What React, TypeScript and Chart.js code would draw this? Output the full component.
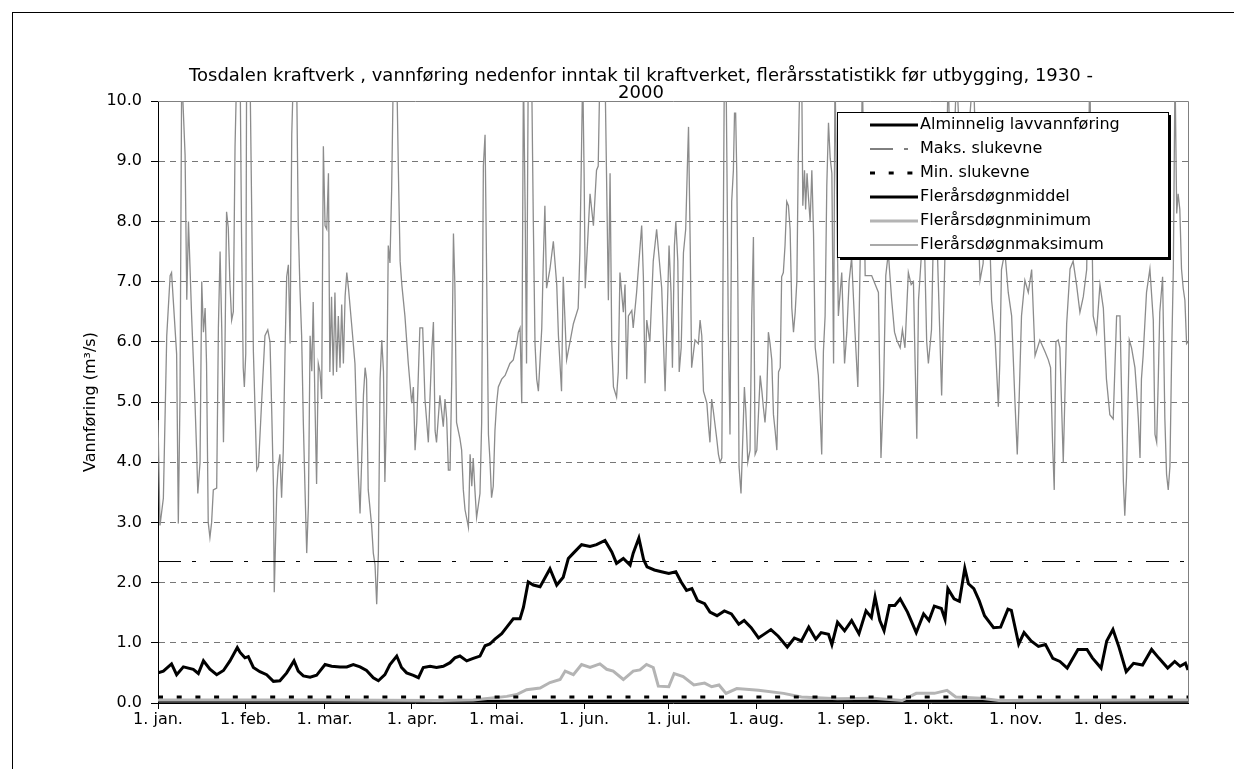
import React, { useEffect, useRef } from 'react';
import { Chart, registerables } from 'chart.js';

Chart.register(...registerables);

// ---------- Data ----------
const titleLines = [
  'Tosdalen kraftverk , vannføring nedenfor inntak til kraftverket, flerårsstatistikk før utbygging, 1930 -',
  '2000',
];
const yAxisTitle = 'Vannføring (m³/s)';

const monthStartDays = [0, 31, 59, 90, 120, 151, 181, 212, 243, 273, 304, 334];
const monthLabels = ['1. jan.', '1. feb.', '1. mar.', '1. apr.', '1. mai.', '1. jun.', '1. jul.', '1. aug.', '1. sep.', '1. okt.', '1. nov.', '1. des.'];
const yearSpan = [0, 365];

const seriesLabels = [
  'Alminnelig lavvannføring',
  'Maks. slukevne',
  'Min. slukevne',
  'Flerårsdøgnmiddel',
  'Flerårsdøgnminimum',
  'Flerårsdøgnmaksimum',
];

const alminneligLavvannforing = 0.03;
const maksSlukevne = 2.35;
const minSlukevne = 0.1;

// [day of year, m3/s]
const meanSeries: [number, number][] = [
  [0, 0.5], [1.9, 0.53], [4.8, 0.65], [6.6, 0.47], [9, 0.6], [12.5, 0.56], [14.3, 0.49], [16.1, 0.7],
  [18.4, 0.56], [20.8, 0.47], [23.2, 0.54], [25.5, 0.7], [28.1, 0.92], [29.1, 0.84], [30.8, 0.75], [32, 0.77],
  [33.8, 0.59], [36.1, 0.52], [38.5, 0.47], [40.9, 0.36], [43.2, 0.37], [45.6, 0.5], [48.2, 0.7], [49.7, 0.53],
  [51.5, 0.45], [53.9, 0.43], [56.2, 0.46], [59.2, 0.64], [61.5, 0.61], [64.5, 0.6], [66.9, 0.6], [69.2, 0.64],
  [71.6, 0.6], [73.9, 0.54], [76.3, 0.42], [78.1, 0.37], [80.4, 0.47], [82.2, 0.64], [84.6, 0.78], [86.3, 0.59],
  [88.1, 0.5], [90.5, 0.46], [92.3, 0.42], [94, 0.59], [96.4, 0.61], [98.7, 0.59], [101.1, 0.61], [103.5, 0.67],
  [105.2, 0.75], [107, 0.78], [109.4, 0.7], [111.7, 0.74], [114.1, 0.78], [115.9, 0.95], [117.6, 0.98], [119.4, 1.06],
  [121.8, 1.15], [123.6, 1.26], [125.9, 1.4], [128.3, 1.4], [129.5, 1.59], [131.2, 2.01], [133, 1.96], [135.4, 1.93],
  [138.9, 2.23], [141.3, 1.96], [143.6, 2.09], [145.4, 2.4], [147.2, 2.49], [150.1, 2.63], [153.1, 2.6], [155.4, 2.63],
  [158.4, 2.7], [160.8, 2.51], [162.5, 2.32], [164.9, 2.4], [167.3, 2.29], [168.4, 2.49], [170.4, 2.74], [172.1, 2.38],
  [173.3, 2.26], [175.9, 2.21], [178.4, 2.18], [181, 2.15], [183.5, 2.18], [185.4, 2.01], [187.3, 1.87], [189.2, 1.9],
  [191.2, 1.7], [193.7, 1.65], [195.6, 1.51], [198.1, 1.45], [200.7, 1.53], [203.2, 1.48], [205.8, 1.31], [207.7, 1.37],
  [210.2, 1.25], [212.8, 1.08], [214.7, 1.14], [217.2, 1.22], [219.8, 1.11], [223, 0.93], [225.5, 1.08], [228, 1.03],
  [230.6, 1.26], [233.1, 1.06], [235, 1.17], [237.6, 1.14], [238.8, 0.97], [240.8, 1.34], [243.3, 1.2], [245.8, 1.37],
  [248.4, 1.15], [250.9, 1.53], [252.8, 1.42], [254.1, 1.76], [255.8, 1.37], [257.3, 1.2], [259.2, 1.62], [261.1, 1.62],
  [263, 1.73], [265.6, 1.51], [268.7, 1.17], [271.3, 1.48], [273.2, 1.37], [275.1, 1.61], [277.6, 1.57], [278.9, 1.39],
  [279.9, 1.9], [282.1, 1.73], [284, 1.69], [285.9, 2.24], [287.2, 1.98], [289.1, 1.9], [291, 1.7], [292.9, 1.45],
  [296.1, 1.25], [298.6, 1.26], [301.2, 1.56], [302.4, 1.54], [305, 0.98], [306.9, 1.17], [309.4, 1.03], [312, 0.94],
  [314.5, 0.97], [317.1, 0.74], [319.6, 0.69], [322.2, 0.58], [326, 0.89], [329.2, 0.89], [331.1, 0.75], [334.2, 0.58],
  [336.2, 1.03], [338.4, 1.22], [340.6, 0.92], [343.1, 0.52], [345.7, 0.66], [348.9, 0.63], [352.1, 0.89], [354.6, 0.75],
  [357.8, 0.58], [360.3, 0.69], [362.2, 0.61], [364.1, 0.66], [365, 0.55],
];

const minSeries: [number, number][] = [
  [0, 0.05], [60, 0.05], [100, 0.04], [111.7, 0.05], [117.6, 0.08], [123.6, 0.11], [127.1, 0.14], [130.6, 0.22],
  [135.4, 0.25], [138.9, 0.34], [142.5, 0.39], [144.3, 0.53], [147.2, 0.47], [150.1, 0.64], [153.1, 0.59], [156.6, 0.65],
  [159, 0.56], [161.3, 0.53], [164.9, 0.39], [168.4, 0.53], [170.8, 0.55], [173.1, 0.64], [175.5, 0.59], [177.3, 0.28],
  [181, 0.27], [182.9, 0.49], [186.1, 0.44], [189.9, 0.3], [193.7, 0.33], [196.2, 0.27], [198.8, 0.3], [201.3, 0.16],
  [205.1, 0.24], [212.8, 0.21], [221.7, 0.16], [228, 0.1], [240.8, 0.07], [253.5, 0.08], [263.7, 0.04], [268.7, 0.16],
  [275.1, 0.16], [279.6, 0.21], [282.7, 0.1], [291.6, 0.08], [298, 0.04], [365, 0.05],
];

const maxSeries: [number, number][] = [
  [0, 4.7], [0.7, 2.95], [1.9, 3.4], [3.1, 6.1], [4.3, 7.1], [4.8, 7.15], [5.4, 6.7], [6.6, 5.8], [7.2, 2.98], [7.8, 5.1],
  [8.4, 10.5], [9.6, 9.1], [10.2, 6.7], [10.8, 8.0], [11.3, 7.3], [11.9, 6.45], [13.1, 5.0], [13.7, 4.16], [14.1, 3.48], [14.9, 4.0],
  [15.5, 7.0], [16.1, 6.16], [16.7, 6.56], [17.2, 5.64], [17.8, 3.0], [18.4, 2.75], [19, 3.0], [19.6, 3.54], [20.8, 3.57], [21.4, 6.23],
  [22, 7.5], [22.6, 6.2], [23.2, 4.33], [23.7, 5.77], [24.3, 8.16], [24.9, 7.9], [25.5, 6.95], [26.1, 6.36], [26.7, 6.5], [27.3, 9.25],
  [27.9, 10.5], [29.1, 10.5], [29.6, 7.8], [30.2, 5.57], [30.6, 5.25], [31.1, 5.8], [31.4, 10.5], [32.6, 10.5], [33.2, 8.2], [33.8, 5.84],
  [34.4, 4.85], [35, 3.87], [35.6, 3.93], [36.7, 4.98], [37.9, 6.1], [38.9, 6.2], [39.7, 6.0], [40.3, 4.85], [40.9, 3.6], [41.2, 1.84],
  [42.1, 3.54], [42.6, 3.93], [43.2, 4.13], [43.8, 3.41], [44.4, 4.2], [45, 5.8], [45.6, 7.08], [46.2, 7.28], [46.8, 5.97], [47.4, 9.44],
  [48, 10.5], [49.1, 10.5], [49.7, 7.93], [50.3, 6.89], [50.9, 6.1], [51.5, 4.66], [52.1, 3.54], [52.7, 2.49], [53.3, 3.28], [53.9, 6.1],
  [54.5, 5.51], [55, 6.66], [55.6, 5.05], [56.2, 3.64], [56.8, 5.64], [57.4, 5.5], [58, 5.05], [58.6, 9.25], [59.2, 7.93], [59.8, 7.87],
  [60.4, 8.8], [60.9, 5.5], [61.5, 6.75], [62.1, 5.44], [62.7, 6.82], [63.3, 5.5], [63.9, 6.43], [64.5, 5.57], [65.1, 6.62], [65.7, 5.64],
  [66.3, 6.75], [66.9, 7.15], [67.5, 6.89], [68.6, 6.3], [69.8, 5.64], [70.4, 4.66], [71, 3.8], [71.6, 3.15], [72.2, 4.07], [72.8, 5.11],
  [73.4, 5.57], [73.9, 5.38], [74.5, 3.54], [75.7, 2.95], [76.3, 2.49], [76.9, 2.3], [77.5, 1.64], [78.1, 2.49], [78.7, 5.38], [79.3, 6.03],
  [79.9, 5.51], [80.4, 3.67], [81, 4.85], [81.6, 7.6], [82.2, 7.31], [82.8, 8.52], [83.4, 10.5], [84.6, 10.5], [85.2, 8.8], [85.8, 7.34],
  [86.4, 6.95], [87.5, 6.43], [88.7, 5.64], [89.9, 4.98], [90.5, 5.25], [91.1, 4.2], [91.7, 4.66], [92.8, 6.23], [93.8, 6.23], [94.6, 5.05],
  [95.8, 4.33], [97, 5.84], [97.6, 6.33], [98.2, 4.52], [98.7, 4.33], [99.9, 5.11], [101.1, 4.59], [101.7, 5.05], [102.3, 4.72], [102.9, 3.87],
  [103.5, 3.87], [104.1, 5.38], [104.7, 7.8], [105.2, 6.95], [105.8, 4.66], [107, 4.39], [107.6, 4.2], [108.2, 3.54], [108.8, 3.21], [110, 2.92],
  [110.6, 4.13], [111.2, 3.6], [111.7, 4.07], [112.3, 3.54], [112.9, 3.08], [114.1, 3.48], [114.7, 4.66], [115.3, 8.92], [115.9, 9.44], [116.5, 6.95],
  [117.1, 4.46], [117.6, 4.07], [118.2, 3.41], [118.8, 3.6], [119.4, 4.52], [120, 4.98], [120.6, 5.25], [121.8, 5.38], [123, 5.44], [124.7, 5.64],
  [125.9, 5.7], [127.1, 5.97], [127.7, 6.16], [128.3, 6.23], [128.9, 4.98], [129.5, 10.5], [130.1, 8.2], [130.6, 5.64], [131.2, 10.5], [132.4, 10.5],
  [133, 8.0], [133.6, 5.97], [134.2, 5.38], [134.8, 5.18], [136, 6.23], [136.5, 7.28], [137.1, 8.26], [137.7, 6.89], [138.9, 7.21], [140.1, 7.67],
  [141.3, 6.95], [141.9, 6.1], [143, 5.18], [143.6, 7.08], [144.8, 5.7], [146, 6.0], [147.2, 6.3], [148.9, 6.56], [149.5, 7.48], [150.1, 9.25],
  [150.5, 10.5], [151, 8.8], [151.4, 6.89], [151.9, 7.34], [153.1, 8.46], [154.3, 7.93], [155.4, 8.85], [156, 8.92], [156.6, 10.5], [158.4, 10.5],
  [159.6, 6.69], [160.2, 8.8], [160.8, 5.97], [161.4, 5.25], [162.5, 5.08], [163.1, 5.5], [163.7, 7.15], [164.9, 6.49], [165.5, 6.95], [166.1, 5.38],
  [166.7, 6.43], [167.9, 6.52], [168.4, 6.23], [169.6, 6.82], [171.4, 7.93], [172, 7.08], [172.6, 5.31], [173.2, 6.36], [174.3, 6.0], [175.5, 7.34],
  [176.7, 7.87], [178.5, 6.89], [179.7, 5.18], [181.1, 7.6], [181.8, 6.82], [182.3, 5.57], [183, 7.6], [183.5, 8.0], [184.2, 7.34], [184.7, 5.5],
  [185.4, 5.9], [186.2, 7.48], [187, 7.87], [187.7, 9.1], [188, 9.57], [188.6, 7.6], [189.1, 5.57], [190.3, 6.03], [191.5, 5.97], [192.1, 6.36],
  [192.7, 6.1], [193.3, 5.18], [194.5, 4.98], [195.1, 4.59], [195.6, 4.33], [196.2, 5.05], [196.8, 4.85], [198, 4.39], [198.6, 4.13], [199.2, 4.0],
  [199.8, 4.07], [200.4, 8.4], [200.7, 10.5], [201.3, 10.5], [201.7, 8.46], [202.1, 6.16], [202.7, 4.46], [203.3, 8.33], [203.9, 8.85], [204.3, 9.8],
  [204.7, 9.8], [205.1, 8.8], [205.5, 6.82], [205.9, 3.93], [206.6, 3.48], [207.1, 4.2], [207.8, 5.25], [208.3, 4.85], [209, 4.0], [209.8, 4.2],
  [210.4, 6.43], [211, 7.74], [211.6, 4.13], [212.2, 4.2], [213.4, 5.44], [214, 5.18], [214.5, 4.92], [215.1, 4.66], [215.7, 5.05], [216.3, 6.16],
  [216.9, 5.97], [217.5, 5.7], [218.1, 4.79], [218.7, 4.52], [219.3, 4.2], [219.9, 5.5], [220.5, 5.57], [221, 7.08], [221.6, 7.15], [222.2, 7.6],
  [222.8, 8.33], [223.4, 8.26], [224, 7.87], [224.6, 6.56], [225.2, 6.16], [225.8, 6.49], [226.4, 7.02], [226.9, 9.05], [227.5, 10.5], [228.1, 10.5],
  [228.5, 8.26], [229.1, 8.85], [229.5, 8.2], [230, 8.8], [230.5, 8.4], [231.1, 8.0], [231.7, 8.85], [232.3, 7.8], [232.9, 5.9], [234, 5.44],
  [234.6, 4.85], [235.2, 4.13], [235.8, 5.84], [236.4, 6.43], [237, 8.59], [237.6, 9.64], [238.2, 9.05], [238.8, 8.8], [239.4, 5.64], [239.9, 10.5],
  [241.1, 6.43], [242.3, 7.15], [243.3, 5.64], [244.1, 6.16], [244.9, 7.0], [245.8, 7.4], [247, 6.16], [248, 5.25], [248.8, 7.28], [249.6, 10.5],
  [250.6, 7.1], [252.9, 7.1], [255.3, 6.82], [256.2, 4.07], [257.1, 5.18], [257.9, 7.1], [258.8, 7.48], [260, 6.69], [261, 6.16], [261.8, 6.03],
  [263, 5.9], [263.8, 6.2], [264.7, 5.9], [265.9, 7.15], [266.9, 6.95], [267.7, 7.0], [268.3, 5.64], [268.9, 4.39], [269.5, 6.69], [270.6, 7.5],
  [271.2, 8.5], [272.4, 6.0], [273, 5.64], [274.1, 6.2], [275.3, 9.0], [276.5, 7.0], [277.7, 5.11], [278.9, 7.5], [280, 10.5], [281.2, 8.0],
  [283, 10.5], [284.8, 8.5], [286.5, 9.0], [288.9, 10.5], [291.3, 7.02], [292.4, 7.3], [293.6, 9.5], [295.4, 6.69], [296.6, 6.1], [297.8, 4.92],
  [298.3, 5.64], [298.9, 7.2], [300.1, 7.5], [301.3, 6.82], [302.5, 6.43], [303.7, 4.98], [304.5, 4.13], [305.2, 5.11], [306, 6.43], [307.2, 7.02],
  [308.4, 6.82], [309.6, 7.2], [310.8, 5.77], [312.5, 6.03], [314.3, 5.84], [315.5, 5.7], [316.3, 5.57], [317, 4.33], [317.6, 3.54], [318.2, 6.0],
  [319, 6.03], [319.6, 5.9], [320.8, 4.0], [322, 6.3], [323.2, 7.21], [324.3, 7.34], [325.5, 6.95], [326.7, 6.49], [327.9, 6.75], [329.1, 7.2],
  [330.2, 10.5], [331.4, 6.43], [332.6, 6.16], [333.8, 6.95], [335, 6.56], [336.1, 5.38], [337.3, 4.79], [338.5, 4.72], [339.7, 6.43], [340.9, 6.43],
  [342.1, 3.67], [342.6, 3.11], [343.2, 3.74], [344.2, 6.03], [345, 5.9], [346.2, 5.57], [346.8, 5.18], [347.4, 4.72], [348, 4.07], [348.5, 5.38],
  [349.1, 5.77], [350.3, 6.82], [351.5, 7.21], [352.7, 6.36], [353.3, 4.46], [353.9, 4.33], [354.5, 5.44], [355, 6.49], [356, 7.08], [356.8, 4.72],
  [357.4, 3.8], [358, 3.54], [358.6, 3.93], [359.2, 5.77], [359.8, 7.21], [360.4, 10.5], [361, 8.13], [361.5, 8.46], [362.1, 8.2], [362.7, 7.21],
  [363.3, 6.89], [363.9, 6.69], [364.5, 5.97], [365, 6.0],
];

// ---------- Helpers ----------
const FONT = 'DejaVu Sans';
const toPoints = (s: [number, number][]) => s.map(([x, y]) => ({ x, y }));
const flat = (v: number) => yearSpan.map((x) => ({ x, y: v }));

const framePlugin = {
  id: 'plotFrame',
  beforeDatasetsDraw(chart: any) {
    const { ctx, chartArea: a } = chart;
    ctx.save();
    ctx.strokeStyle = '#808080';
    ctx.lineWidth = 1;
    ctx.beginPath();
    ctx.moveTo(a.left, Math.round(a.top) + 0.5);
    ctx.lineTo(Math.round(a.right) + 0.5, Math.round(a.top) + 0.5);
    ctx.lineTo(Math.round(a.right) + 0.5, a.bottom);
    ctx.stroke();
    ctx.restore();
  },
};

const titlePlugin = {
  id: 'excelTitle',
  afterDraw(chart: any) {
    const ctx = chart.ctx;
    ctx.save();
    ctx.fillStyle = '#000';
    ctx.font = `18px "${FONT}"`;
    ctx.textAlign = 'center';
    ctx.textBaseline = 'alphabetic';
    titleLines.forEach((t, i) => ctx.fillText(t, 641, 81 + i * 17));
    ctx.restore();
  },
};

const legendPlugin = {
  id: 'excelLegend',
  afterDatasetsDraw(chart: any) {
    const ctx = chart.ctx;
    const bx = 837, by = 112, bw = 331, bh = 145;
    ctx.save();
    ctx.fillStyle = '#000';
    ctx.fillRect(bx + 3, by + 3, bw, bh);
    ctx.fillStyle = '#fff';
    ctx.fillRect(bx, by, bw, bh);
    ctx.strokeStyle = '#000';
    ctx.lineWidth = 1;
    ctx.strokeRect(bx + 0.5, by + 0.5, bw, bh);
    chart.data.datasets.forEach((ds: any, i: number) => {
      const yy = by + 13 + i * 24;
      ctx.beginPath();
      ctx.setLineDash(ds.borderDash || []);
      ctx.lineWidth = ds.borderWidth;
      ctx.strokeStyle = ds.borderColor;
      ctx.moveTo(870, yy);
      ctx.lineTo(918, yy);
      ctx.stroke();
      ctx.setLineDash([]);
      ctx.fillStyle = '#000';
      ctx.font = `16px "${FONT}"`;
      ctx.textAlign = 'left';
      ctx.textBaseline = 'middle';
      ctx.fillText(ds.label, 920, yy);
    });
    ctx.restore();
  },
};

export default function App() {
  const ref = useRef<HTMLCanvasElement>(null);

  useEffect(() => {
    if (!ref.current) return;
    const chart = new Chart(ref.current, {
      type: 'line',
      data: {
        datasets: [
          { label: seriesLabels[0], data: flat(alminneligLavvannforing), borderColor: '#000', borderWidth: 3, order: 1 },
          { label: seriesLabels[1], data: flat(maksSlukevne), borderColor: '#000', borderWidth: 1, borderDash: [23, 11, 4, 14], order: 0 },
          { label: seriesLabels[2], data: flat(minSlukevne), borderColor: '#000', borderWidth: 3, borderDash: [5, 13.7], order: 0 },
          { label: seriesLabels[3], data: toPoints(meanSeries), borderColor: '#000', borderWidth: 3, order: 0 },
          { label: seriesLabels[4], data: toPoints(minSeries), borderColor: '#b4b4b4', borderWidth: 3, order: 0 },
          { label: seriesLabels[5], data: toPoints(maxSeries), borderColor: '#8c8c8c', borderWidth: 1.3, clip: 0, order: 0 } as any,
        ].map((d) => ({ ...d, pointRadius: 0, fill: false, tension: 0 })),
      },
      options: {
        animation: false,
        responsive: false,
        devicePixelRatio: 1,
        layout: { padding: { left: 0, right: 46, top: 101, bottom: 0 } },
        plugins: {
          legend: { display: false },
          title: { display: false },
          tooltip: { enabled: false },
        },
        scales: {
          x: {
            type: 'linear',
            min: 0,
            max: 365,
            afterBuildTicks: (s: any) => {
              s.ticks = monthStartDays.map((v) => ({ value: v }));
            },
            afterFit: (s: any) => {
              s.height = 66;
            },
            ticks: {
              autoSkip: false,
              maxRotation: 0,
              padding: 1,
              color: '#000',
              font: { family: FONT, size: 16 },
              callback: (_v: any, i: number) => monthLabels[i],
            },
            grid: { drawOnChartArea: false, tickLength: 6, tickColor: '#000', color: '#000' },
            border: { color: '#000', width: 1 },
          },
          y: {
            min: 0,
            max: 10,
            afterFit: (s: any) => {
              s.width = 158;
            },
            ticks: {
              stepSize: 1,
              padding: 9,
              color: '#000',
              font: { family: FONT, size: 16 },
              callback: (v: any) => Number(v).toFixed(1),
            },
            grid: {
              color: (c: any) => (c.tick && (c.tick.value === 0 || c.tick.value === 10) ? 'rgba(0,0,0,0)' : '#777'),
              tickColor: '#000',
              tickLength: 7,
              lineWidth: 1,
            },
            border: { color: '#000', width: 1, dash: [6, 5] },
            title: {
              display: true,
              text: yAxisTitle,
              color: '#000',
              font: { family: FONT, size: 16 },
              padding: { top: 81, bottom: 0 },
            },
          },
        },
      },
      plugins: [framePlugin, legendPlugin, titlePlugin],
    } as any);
    return () => chart.destroy();
  }, []);

  return (
    <div style={{ position: 'fixed', left: 0, top: 0, width: 1234, height: 769, overflow: 'hidden', background: '#fff' }}>
      <div style={{ position: 'absolute', left: 12, top: 12, width: 1300, height: 900, border: '1px solid #000' }} />
      <canvas ref={ref} width={1234} height={769} style={{ position: 'absolute', left: 0, top: 0, width: 1234, height: 769 }} />
    </div>
  );
}
